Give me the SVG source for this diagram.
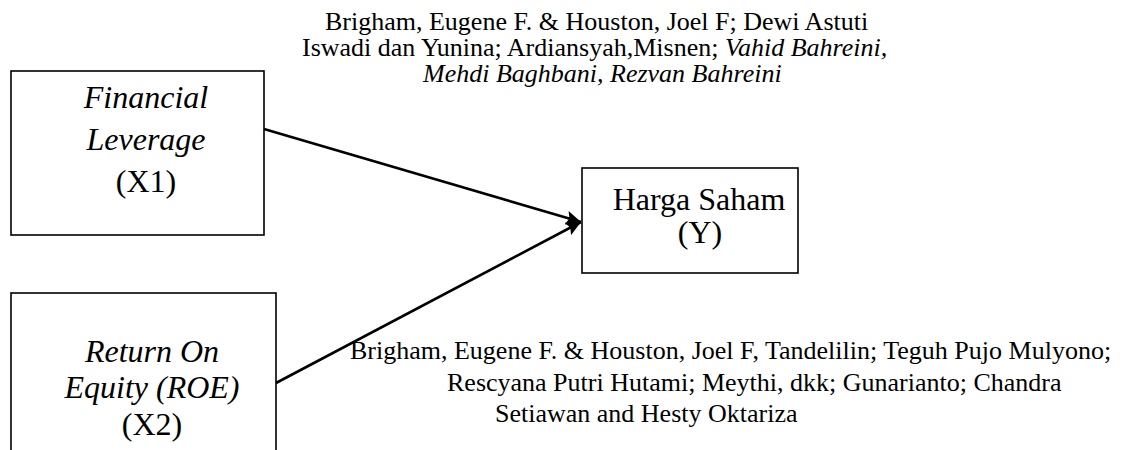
<svg xmlns="http://www.w3.org/2000/svg" width="1136" height="450" viewBox="0 0 1136 450">
<style>
.box{fill:#fff;stroke:#000;stroke-width:1.6}
.nt{font-family:"Liberation Serif","Times New Roman",serif;font-size:32px;fill:#000}
.ref{font-family:"Liberation Serif","Times New Roman",serif;font-size:26px;fill:#000}
.it{font-style:italic}
.conn{stroke:#000;stroke-width:2.6;fill:none;marker-end:url(#arr)}
</style>
<defs>
<marker id="arr" markerUnits="userSpaceOnUse" markerWidth="16" markerHeight="14" refX="15" refY="7" orient="auto">
<path d="M0,0 L15,7 L0,14 L3,7 Z" fill="#000"/>
</marker>
</defs>
<rect width="1136" height="450" fill="#fff"/>
<g id="node-x1">
<rect class="box" x="11" y="71" width="253" height="164"/>
<text class="nt it" x="146" y="108" text-anchor="middle">Financial</text>
<text class="nt it" x="146" y="150" text-anchor="middle">Leverage</text>
<text class="nt" x="146" y="192" text-anchor="middle">(X1)</text>
</g>
<g id="node-x2">
<rect class="box" x="11" y="293" width="265" height="170"/>
<text class="nt it" x="152" y="362" text-anchor="middle">Return On</text>
<text class="nt it" x="152" y="398" text-anchor="middle">Equity (ROE)</text>
<text class="nt" x="152" y="435" text-anchor="middle">(X2)</text>
</g>
<g id="node-y">
<rect class="box" x="582" y="168" width="216" height="105"/>
<text class="nt" x="699" y="210" text-anchor="middle">Harga Saham</text>
<text class="nt" x="700" y="243" text-anchor="middle">(Y)</text>
</g>
<g id="connectors">
<line class="conn" x1="264" y1="129" x2="581" y2="222"/>
<line class="conn" x1="276" y1="383" x2="581" y2="222"/>
</g>
<g id="label-top">
<text class="ref" x="325" y="30">Brigham, Eugene F. &amp; Houston, Joel F; Dewi Astuti</text>
<text class="ref" x="302" y="56">Iswadi dan Yunina; Ardiansyah,Misnen; <tspan class="it">Vahid Bahreini,</tspan></text>
<text class="ref it" x="423" y="82">Mehdi Baghbani, Rezvan Bahreini</text>
</g>
<g id="label-bottom">
<text class="ref" x="350" y="359">Brigham, Eugene F. &amp; Houston, Joel F, Tandelilin; Teguh Pujo Mulyono;</text>
<text class="ref" x="447" y="391">Rescyana Putri Hutami; Meythi, dkk; Gunarianto; Chandra</text>
<text class="ref" x="495" y="422">Setiawan and Hesty Oktariza</text>
</g>
</svg>
